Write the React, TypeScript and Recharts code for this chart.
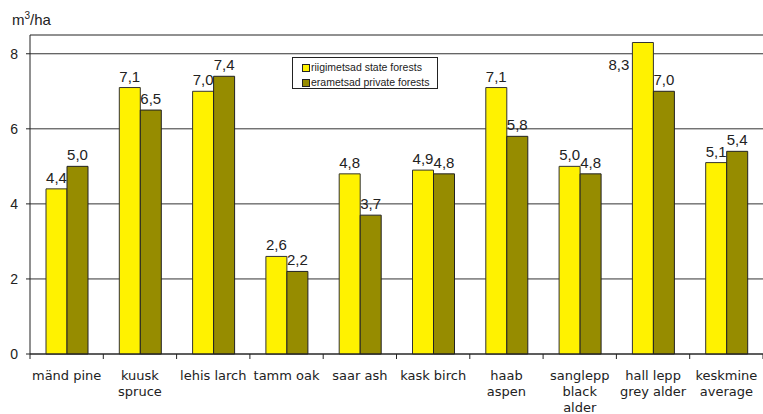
import React from 'react';
import {
  BarChart, Bar, XAxis, YAxis, CartesianGrid, ReferenceLine, LabelList, Label,
} from 'recharts';

const categories = [
  ['mänd pine'],
  ['kuusk', 'spruce'],
  ['lehis larch'],
  ['tamm oak'],
  ['saar ash'],
  ['kask birch'],
  ['haab', 'aspen'],
  ['sanglepp', 'black', 'alder'],
  ['hall lepp', 'grey alder'],
  ['keskmine', 'average'],
];
const stateForests = [4.4, 7.1, 7.0, 2.6, 4.8, 4.9, 7.1, 5.0, 8.3, 5.1];
const privateForests = [5.0, 6.5, 7.4, 2.2, 3.7, 4.8, 5.8, 4.8, 7.0, 5.4];
const yTicks = [0, 2, 4, 6, 8];
const seriesNames = ['riigimetsad state forests', 'erametsad private forests'];
const seriesColors = ['#FFF200', '#968C00'];

const data = categories.map((c, i) => ({
  name: c.join(' '),
  lines: c,
  state: stateForests[i],
  priv: privateForests[i],
}));

const W = 763;
const H = 414;
const AXIS_W = 30;
const HALF_BAND = (W - AXIS_W) / categories.length / 2;
const FONT = '"DejaVu Sans", Verdana, sans-serif';
const ARIAL = '"Liberation Sans", Arial, sans-serif';

const fmt = (v: number) => v.toFixed(1).replace('.', ',');

const XTick = (props: any) => {
  const { x, y, index } = props;
  const lines: string[] = data[index].lines;
  return (
    <g>
      {index === 0 && <line x1={x - HALF_BAND} x2={x - HALF_BAND} y1={y} y2={y + 5} stroke="#222" />}
      <line x1={x + HALF_BAND} x2={x + HALF_BAND} y1={y} y2={y + 5} stroke="#222" />
      {lines.map((l, i) => (
        <text key={i} x={x} y={y + 26 + i * 16} textAnchor="middle" fontSize={13} fontFamily={FONT} fill="#222">
          {l}
        </text>
      ))}
    </g>
  );
};

const BarLabel = (props: any) => {
  const { x, y, width, value } = props;
  if (value > 8) {
    return (
      <text x={x - 3} y={y + 27} textAnchor="end" fontSize={15} fontFamily={ARIAL} fill="#222">
        {fmt(value)}
      </text>
    );
  }
  return (
    <text x={x + width / 2} y={y - 6} textAnchor="middle" fontSize={15} fontFamily={ARIAL} fill="#222">
      {fmt(value)}
    </text>
  );
};

const LegendBox = () => (
  <div
    style={{
      position: 'absolute',
      left: 292,
      top: 57,
      border: '1px solid #222',
      background: '#fff',
      width: 146,
      height: 32,
      fontFamily: ARIAL,
      fontSize: 10.5,
      color: '#222',
      padding: '2px 0 0 9px',
      boxSizing: 'border-box',
      lineHeight: '15px',
    }}
  >
    {seriesNames.map((t, i) => (
      <div key={t} style={{ display: 'flex', alignItems: 'center', whiteSpace: 'nowrap' }}>
        <span style={{ display: 'inline-block', width: 6, height: 6, background: seriesColors[i], border: '1px solid #222', marginRight: 1 }} />
        {t}
      </div>
    ))}
  </div>
);

const YUnit = () => (
  <text x={12} y={25} fontSize={15} fontFamily={ARIAL} fill="#222">
    m<tspan dy={-6} fontSize={10}>3</tspan>
    <tspan dy={6}>/ha</tspan>
  </text>
);

export default function App() {
  return (
    <div style={{ position: 'absolute', left: 0, top: 0, width: W, height: H, background: '#fff' }}>
      <BarChart
        width={W}
        height={H}
        data={data}
        margin={{ top: 35, right: 0, bottom: 0, left: 0 }}
        barGap={0}
        barSize={21}
      >
        <CartesianGrid vertical={false} stroke="#333" />
        <ReferenceLine y={8.5} stroke="#888" />
        <XAxis
          dataKey="name"
          height={60}
          interval={0}
          tickSize={0}
          tickMargin={0}
          tickLine={false}
          axisLine={{ stroke: '#222' }}
          tick={<XTick />}
        />
        <YAxis
          width={AXIS_W}
          domain={[0, 8.5]}
          ticks={yTicks}
          tickSize={4}
          tickMargin={8}
          axisLine={{ stroke: '#222' }}
          tickLine={{ stroke: '#222' }}
          tick={{ fontSize: 14, fontFamily: ARIAL, fill: '#222' }}
        >
          <Label content={<YUnit />} />
        </YAxis>
        <Bar dataKey="state" name={seriesNames[0]} fill={seriesColors[0]} stroke="#333" strokeWidth={1} isAnimationActive={false}>
          <LabelList dataKey="state" content={<BarLabel />} />
        </Bar>
        <Bar dataKey="priv" name={seriesNames[1]} fill={seriesColors[1]} stroke="#222" strokeWidth={1} isAnimationActive={false}>
          <LabelList dataKey="priv" content={<BarLabel />} />
        </Bar>
      </BarChart>
      <LegendBox />
    </div>
  );
}
